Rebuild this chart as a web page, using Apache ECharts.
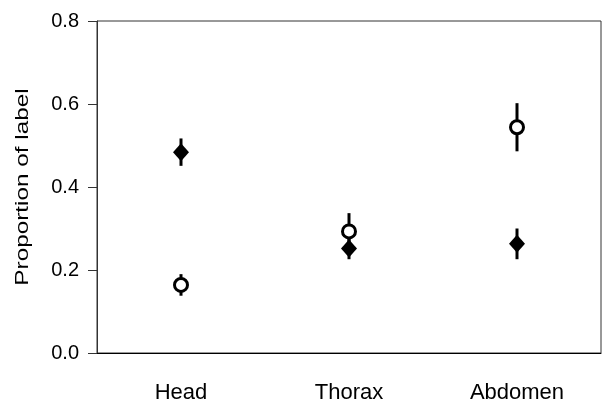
<!DOCTYPE html>
<html>
<head>
<meta charset="utf-8">
<script src="https://cdn.jsdelivr.net/npm/echarts@6/dist/echarts.min.js"></script>
<style>html,body{margin:0;padding:0;background:#fff;}#c{width:603px;height:404px;}</style>
</head>
<body>
<div id="c"></div>
<script>
var categories = ['Head', 'Thorax', 'Abdomen'];
var filledMean = [0.484, 0.252, 0.263];
var filledErr = [0.033, 0.026, 0.037];
var openMean = [0.164, 0.293, 0.544];
var openErr = [0.026, 0.044, 0.058];
var yTicks = [0, 0.2, 0.4, 0.6, 0.8];

var FONT = '"Liberation Sans", Arial, sans-serif';

function errData(mean, err) {
  return mean.map(function (m, i) { return [i, m - err[i], m + err[i]]; });
}
function renderErr(params, api) {
  var lo = api.coord([api.value(0), api.value(1)]);
  var hi = api.coord([api.value(0), api.value(2)]);
  return {
    type: 'line',
    shape: { x1: lo[0], y1: lo[1], x2: hi[0], y2: hi[1] },
    style: { stroke: '#000', lineWidth: 3 }
  };
}

var chart = echarts.init(document.getElementById('c'), null, { renderer: 'canvas' });
chart.setOption({
  animation: false,
  backgroundColor: '#fff',
  grid: { left: 97, top: 21, right: 2, bottom: 50, show: true, borderColor: '#333', borderWidth: 1, backgroundColor: 'transparent' },
  xAxis: {
    type: 'category',
    data: categories,
    boundaryGap: true,
    axisLine: { lineStyle: { color: '#000', width: 1 } },
    axisTick: { show: false },
    axisLabel: { color: '#000', fontSize: 22, fontFamily: FONT, margin: 29 },
    splitLine: { show: false }
  },
  yAxis: {
    type: 'value',
    min: 0, max: 0.8, interval: 0.2,
    axisLine: { show: true, lineStyle: { color: '#333', width: 1 } },
    axisTick: { show: true, inside: false, length: 9, lineStyle: { color: '#333', width: 1 } },
    axisLabel: {
      color: '#000', fontSize: 20, fontFamily: FONT, margin: 18,
      formatter: function (v) { return v.toFixed(1); }
    },
    splitLine: { show: false }
  },
  graphic: [{
    type: 'text',
    x: 23, y: 187,
    rotation: Math.PI / 2,
    scaleX: 1.28,
    style: {
      text: 'Proportion of label',
      font: '19px ' + FONT,
      fill: '#000',
      align: 'center',
      verticalAlign: 'middle'
    }
  }],
  series: [
    { type: 'custom', name: 'filledErr', data: errData(filledMean, filledErr), renderItem: renderErr, z: 1, encode: { x: 0, y: [1, 2] } },
    { type: 'custom', name: 'openErr', data: errData(openMean, openErr), renderItem: renderErr, z: 1, encode: { x: 0, y: [1, 2] } },
    {
      type: 'scatter', name: 'open',
      data: openMean.map(function (m, i) { return [i, m]; }),
      symbol: 'circle', symbolSize: 13,
      itemStyle: { color: '#fff', borderColor: '#000', borderWidth: 3, opacity: 1 },
      z: 3
    },
    {
      type: 'scatter', name: 'filled',
      data: filledMean.map(function (m, i) { return [i, m]; }),
      symbol: 'diamond', symbolSize: [16, 18],
      itemStyle: { color: '#000', opacity: 1 },
      z: 4
    }
  ]
});
</script>
</body>
</html>
